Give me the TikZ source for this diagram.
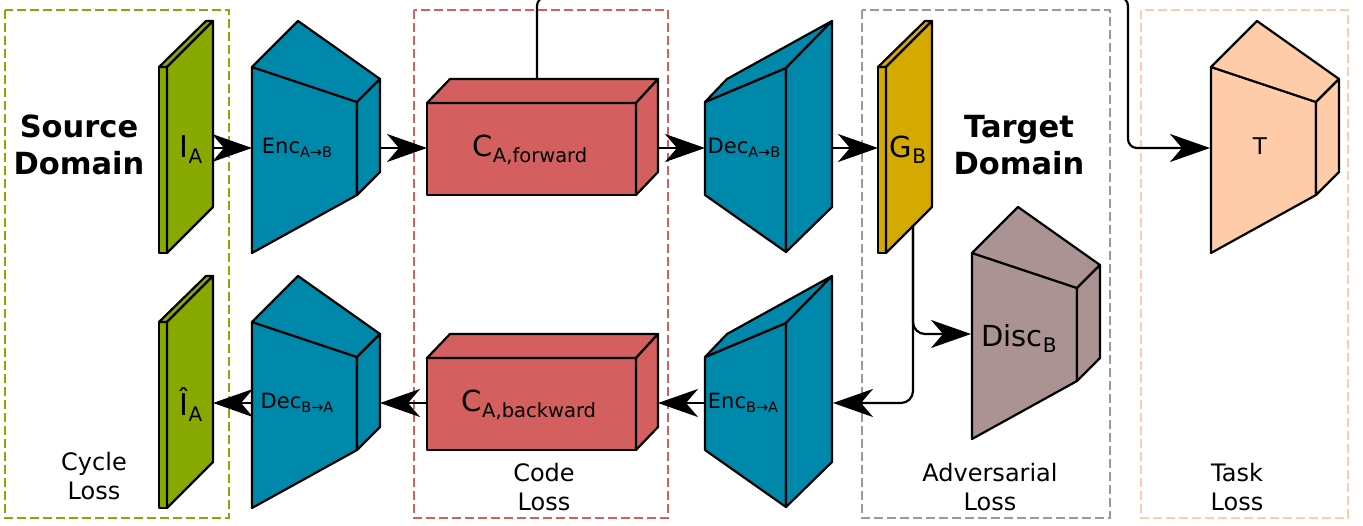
\documentclass[tikz,border=0pt]{standalone}
\usepackage{fontspec}
\setmainfont{DejaVu Sans}
\usetikzlibrary{arrows.meta}
\definecolor{cEnc}{HTML}{0088AA}
\definecolor{cGreen}{HTML}{88AA00}
\definecolor{cRed}{HTML}{D35F5F}
\definecolor{cGold}{HTML}{D4AA00}
\definecolor{cMauve}{HTML}{AC9393}
\definecolor{cPeach}{HTML}{FFCCAA}
\newcommand\lb[5]{{\fontsize{#1}{#1}\selectfont #2\raisebox{-#5}{\fontsize{#3}{#3}\selectfont #4}}}
\newcommand\mkEnc[3]{%
 \begin{scope}[shift={(#1,#2)}]
  \path[shp, fill=#3] (252,67) -- (357,102) -- (357,195) -- (252,253) -- cycle;
  \path[shp, fill=#3] (252,67) -- (298,21) -- (380,79) -- (357,102) -- cycle;
  \path[shp, fill=#3] (357,102) -- (380,79) -- (380,172) -- (357,195) -- cycle;
 \end{scope}}
\newcommand\mkDec[3]{%
 \begin{scope}[shift={(#1,#2)}]
  \path[shp, fill=#3] (705,102) -- (786,68) -- (786,252) -- (705,195) -- cycle;
  \path[shp, fill=#3] (705,102) -- (727,79) -- (832,21) -- (786,68) -- cycle;
  \path[shp, fill=#3] (786,68) -- (832,21) -- (832,207) -- (786,252) -- cycle;
 \end{scope}}
\newcommand\mkBox[2]{%
 \begin{scope}[shift={(#1,#2)}]
  \path[shp, fill=cRed] (427,103) -- (636,103) -- (636,195) -- (427,195) -- cycle;
  \path[shp, fill=cRed] (427,103) -- (450,79) -- (658,79) -- (636,103) -- cycle;
  \path[shp, fill=cRed] (636,103) -- (658,79) -- (658,172) -- (636,195) -- cycle;
 \end{scope}}
\newcommand\mkPlate[3]{%
 \begin{scope}[shift={(#1,#2)}]
  \path[shp, fill=#3] (159,67) -- (167,67) -- (167,253) -- (159,253) -- cycle;
  \path[shp, fill=#3] (159,67) -- (206,21) -- (213,21) -- (167,67) -- cycle;
  \path[shp, fill=#3] (167,67) -- (213,21) -- (213,207) -- (167,253) -- cycle;
 \end{scope}}
\tikzset{
  shp/.style={draw=black, line width=2.2pt, line join=round},
  edge/.style={draw=black, line width=2.2pt, -{Stealth[length=40pt, width=28pt, inset=12pt]}},
  zone/.style={line width=2pt, dash pattern=on 9pt off 4pt},
  lbl/.style={inner sep=0pt, anchor=center},
  title/.style={inner sep=0pt, align=center, font=\bfseries\fontsize{30.5}{37}\selectfont},
  loss/.style={inner sep=0pt, align=center, font=\fontsize{24}{29}\selectfont},
}
\begin{document}
\begin{tikzpicture}[x=1pt, y=-1pt]
\useasboundingbox (0,0) rectangle (1363,525);
\clip (0,0) rectangle (1363,525);
\fill[white] (0,0) rectangle (1363,525);
% zones
\draw[zone, draw=cGreen] (5,10) rectangle (229,518);
\draw[zone, draw=cRed] (414,10) rectangle (668,518);
\draw[zone, draw=cMauve] (862,10) rectangle (1110,518);
\draw[zone, draw=cPeach] (1141,10) rectangle (1348,518);
% shapes
\mkPlate{0}{0}{cGreen}
\mkPlate{0}{255}{cGreen}
\mkPlate{719}{0}{cGold}
\mkEnc{0}{0}{cEnc}
\mkEnc{0}{255}{cEnc}
\mkEnc{959}{0}{cPeach}
\mkEnc{720}{186}{cMauve}
\mkDec{0}{0}{cEnc}
\mkDec{0}{255}{cEnc}
\mkBox{0}{0}
\mkBox{0}{255}
% labels
\node[lbl] (IA) at (191,150) {\lb{30}{I}{20}{A}{6pt}};
\node[lbl] (IhA) at (191,405) {\lb{30}{Î}{20}{A}{6pt}};
\node[lbl] (EncAB) at (297,148) {\lb{21}{Enc}{14.5}{A→B}{4pt}};
\node[lbl] (DecBA) at (297,403) {\lb{21}{Dec}{14.5}{B→A}{4pt}};
\node[lbl] (CF) at (530,150) {\lb{29}{C}{19.5}{A,forward}{6pt}};
\node[lbl] (CB) at (529,405) {\lb{29}{C}{19.5}{A,backward}{6pt}};
\node[lbl] (DecAB) at (744,148) {\lb{21}{Dec}{14.5}{A→B}{4pt}};
\node[lbl] (EncBA) at (743,403) {\lb{21}{Enc}{14.5}{B→A}{4pt}};
\node[lbl] (GB) at (908,150) {\lb{29}{G}{20}{B}{6pt}};
\node[lbl] (Disc) at (1019,338) {\lb{29}{Disc}{20}{B}{6pt}};
\node[lbl] (T) at (1260,146) {\fontsize{23}{23}\selectfont T};
\node[title] (src) at (79,145) {Source\\Domain};
\node[title] (tgt) at (1019,145) {Target\\Domain};
\node[loss] (cyc) at (94,476) {Cycle\\Loss};
\node[loss] (code) at (544,487) {Code\\Loss};
\node[loss] (adv) at (990,487) {Adversarial\\Loss};
\node[loss] (task) at (1237,487) {Task\\Loss};
% anchor coordinates
\coordinate (ia-e) at (213,148);
\coordinate (encab-w) at (252,148);
\coordinate (encab-e) at (380,148);
\coordinate (cf-w) at (427,148);
\coordinate (cf-e) at (658,148);
\coordinate (cf-n) at (537,79);
\coordinate (decab-w) at (705,148);
\coordinate (decab-e) at (832,148);
\coordinate (gb-w) at (878,148);
\coordinate (gb-s) at (913,225);
\coordinate (disc-w) at (971,334);
\coordinate (encba-e) at (833,403);
\coordinate (encba-w) at (705,403);
\coordinate (cb-e) at (658,403);
\coordinate (cb-w) at (427,403);
\coordinate (decba-e) at (380,403);
\coordinate (decba-w) at (252,403);
\coordinate (iha-e) at (213,403);
\coordinate (turn) at (1128,-3);
\coordinate (t-w) at (1210,148);
% connectors
\draw[edge] (ia-e) -- (encab-w);
\draw[edge] (encab-e) -- (cf-w);
\draw[edge] (cf-e) -- (decab-w);
\draw[edge] (decab-e) -- (gb-w);
\draw[edge, rounded corners=12pt] (gb-s) |- (disc-w);
\draw[edge, rounded corners=12pt] (gb-s) |- (encba-e);
\draw[edge] (encba-w) -- (cb-e);
\draw[edge] (cb-w) -- (decba-e);
\draw[edge] (decba-w) -- (iha-e);
\draw[edge, rounded corners=9pt] (cf-n) |- (turn) |- (t-w);
\end{tikzpicture}
\end{document}
